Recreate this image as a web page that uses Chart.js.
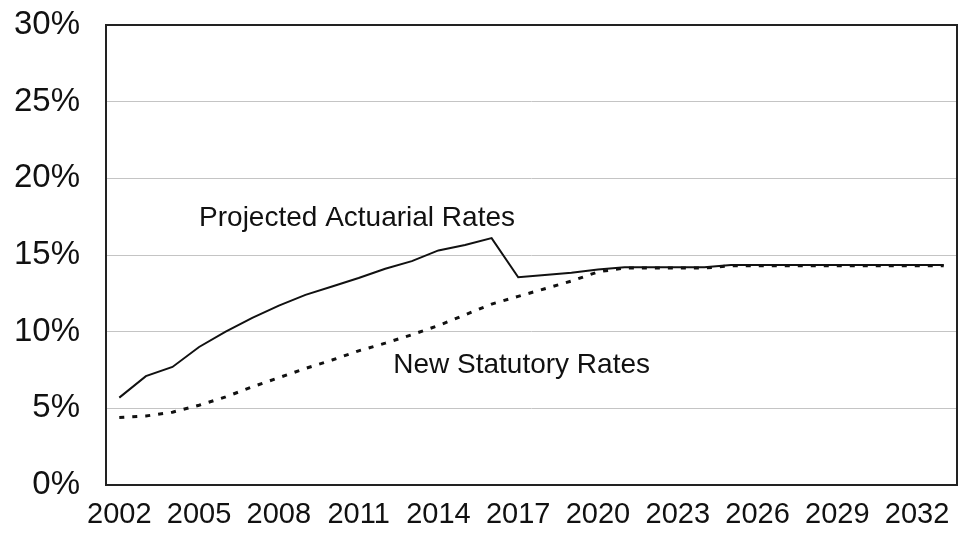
<!DOCTYPE html>
<html>
<head>
<meta charset="utf-8">
<script src="https://cdn.jsdelivr.net/npm/chart.js@4/dist/chart.umd.min.js"></script>
<style>
  html, body { margin: 0; padding: 0; background: #ffffff; }
  canvas { display: block; }
</style>
</head>
<body>
<canvas id="c" width="962" height="541"></canvas>
<script>
const years = ["2002","2003","2004","2005","2006","2007","2008","2009","2010","2011",
               "2012","2013","2014","2015","2016","2017","2018","2019","2020","2021",
               "2022","2023","2024","2025","2026","2027","2028","2029","2030","2031",
               "2032","2033"];

const actuarialRates = [5.7, 7.1, 7.7, 9.0, 10.0, 10.9, 11.7, 12.4, 12.95, 13.5,
                        14.1, 14.6, 15.3, 15.65, 16.1, 13.55, 13.7, 13.85, 14.05, 14.2,
                        14.2, 14.2, 14.2, 14.35, 14.35, 14.35, 14.35, 14.35, 14.35, 14.35,
                        14.35, 14.35];

const statutoryRates = [4.4, 4.5, 4.75, 5.2, 5.75, 6.4, 7.0, 7.6, 8.15, 8.75,
                        9.25, 9.8, 10.4, 11.1, 11.8, 12.3, 12.8, 13.3, 13.9, 14.15,
                        14.15, 14.15, 14.15, 14.3, 14.3, 14.3, 14.3, 14.3, 14.3, 14.3,
                        14.3, 14.3];

const yTicks = [0, 5, 10, 15, 20, 25, 30];

const seriesNames = ["Projected Actuarial Rates", "New Statutory Rates"];

const FONT = "'Liberation Sans', Arial, Helvetica, sans-serif";

const annotationPlugin = {
  id: 'annotations',
  afterDatasetsDraw(chart) {
    const ctx = chart.ctx;
    const xs = chart.scales.x, ys = chart.scales.y;
    const a = chart.chartArea;
    ctx.save();
    // plot border
    ctx.strokeStyle = '#222';
    ctx.lineWidth = 2;
    ctx.strokeRect(a.left, a.top, a.right - a.left, a.bottom - a.top);
    // series labels
    ctx.fillStyle = '#111';
    ctx.font = '28px ' + FONT;
    ctx.textBaseline = 'middle';
    ctx.textAlign = 'left';
    ctx.fillText(seriesNames[0], xs.getPixelForValue(3), ys.getPixelForValue(17.4));
    ctx.fillText(seriesNames[1], xs.getPixelForValue(10.3), ys.getPixelForValue(7.8));
    ctx.restore();
  }
};

new Chart(document.getElementById('c'), {
  type: 'line',
  data: {
    labels: years,
    datasets: [
      {
        label: seriesNames[1],
        data: statutoryRates,
        borderColor: '#111',
        borderWidth: 3,
        borderDash: [5, 8],
        pointRadius: 0,
        tension: 0,
        fill: false
      },
      {
        label: seriesNames[0],
        data: actuarialRates,
        borderColor: '#111',
        borderWidth: 2,
        pointRadius: 0,
        tension: 0,
        fill: false
      }
    ]
  },
  options: {
    responsive: false,
    devicePixelRatio: 1,
    animation: false,
    layout: { padding: { left: 0, right: 5, top: 25, bottom: 0 } },
    plugins: {
      legend: { display: false },
      tooltip: { enabled: false }
    },
    scales: {
      x: {
        type: 'category',
        offset: true,
        grid: { display: false, drawTicks: false },
        border: { display: false },
        ticks: {
          autoSkip: false,
          maxRotation: 0,
          minRotation: 0,
          padding: 13,
          color: '#111',
          font: { family: FONT, size: 29 },
          callback: function(val, idx) { return idx % 3 === 0 ? years[idx] : ''; }
        },
        afterFit(scale) {
          scale.height = 56;
          scale.paddingLeft = 0; scale.paddingRight = 0;
        }
      },
      y: {
        min: 0,
        max: 30,
        afterBuildTicks(scale) { scale.ticks = yTicks.map(v => ({ value: v })); },
        grid: {
          color: (c) => (c.tick && (c.tick.value === 0 || c.tick.value === 30)) ? 'rgba(0,0,0,0)' : '#c4c4c4',
          lineWidth: 1,
          drawTicks: false
        },
        border: { display: false, dash: [] },
        ticks: {
          padding: 26,
          color: '#111',
          font: { family: FONT, size: 33 },
          callback: (v) => v + '%'
        },
        afterFit(scale) {
          scale.width = 106;
          scale.paddingTop = 0; scale.paddingBottom = 0;
        }
      }
    }
  },
  plugins: [annotationPlugin]
});
</script>
</body>
</html>
